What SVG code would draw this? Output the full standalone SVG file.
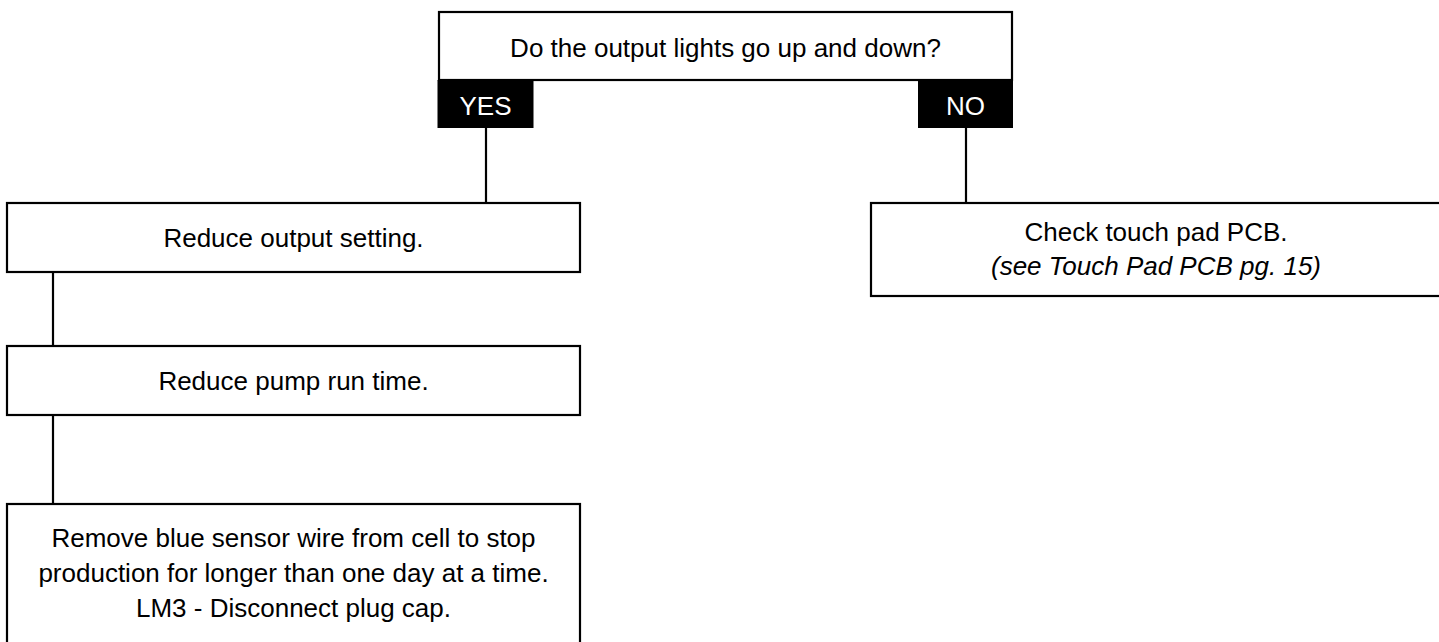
<svg xmlns="http://www.w3.org/2000/svg" width="1439" height="642" viewBox="0 0 1439 642">
<style>
.box{fill:#fff;stroke:#000;stroke-width:2.2}
.lab{fill:#000}
.t{font-family:"Liberation Sans",Arial,sans-serif;font-size:26px;fill:#000;text-anchor:middle}
.w{fill:#fff}
.i{font-style:italic}
.c{stroke:#000;stroke-width:2.2;fill:none}
</style>
<rect width="1439" height="642" fill="#fff"/>
<g id="connectors">
<line class="c" x1="486" y1="128" x2="486" y2="203"/>
<line class="c" x1="966" y1="128" x2="966" y2="203"/>
<line class="c" x1="53" y1="272" x2="53" y2="346"/>
<line class="c" x1="53" y1="415" x2="53" y2="504"/>
</g>
<g id="question">
<rect class="box" x="439" y="12" width="573" height="68"/>
<text class="t" x="725.5" y="57">Do the output lights go up and down?</text>
</g>
<g id="yes">
<rect class="lab" x="437.5" y="80" width="96" height="48"/>
<text class="t w" x="485.5" y="115">YES</text>
</g>
<g id="no">
<rect class="lab" x="918" y="80" width="95" height="48"/>
<text class="t w" x="965.5" y="115">NO</text>
</g>
<g id="reduce-output">
<rect class="box" x="7" y="203" width="573" height="69"/>
<text class="t" x="293.5" y="247">Reduce output setting.</text>
</g>
<g id="reduce-pump">
<rect class="box" x="7" y="346" width="573" height="69"/>
<text class="t" x="293.5" y="390">Reduce pump run time.</text>
</g>
<g id="remove-wire">
<rect class="box" x="7" y="504" width="573" height="150"/>
<text class="t" x="293.5" y="547">Remove blue sensor wire from cell to stop</text>
<text class="t" x="293.5" y="582">production for longer than one day at a time.</text>
<text class="t" x="293.5" y="617">LM3 - Disconnect plug cap.</text>
</g>
<g id="check-pcb">
<rect class="box" x="871" y="203" width="580" height="93"/>
<text class="t" x="1156" y="241">Check touch pad PCB.</text>
<text class="t i" x="1156" y="275">(see Touch Pad PCB pg. 15)</text>
</g>
</svg>
